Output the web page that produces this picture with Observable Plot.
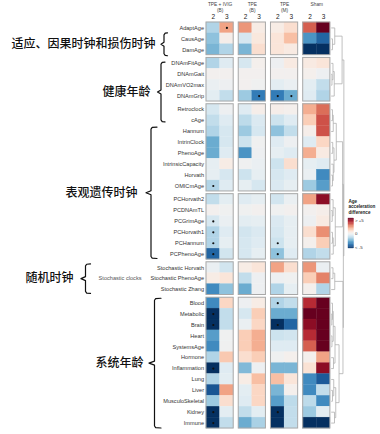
<!DOCTYPE html>
<html><head><meta charset="utf-8">
<script src="https://cdn.jsdelivr.net/npm/d3@7"></script>
<script src="https://cdn.jsdelivr.net/npm/@observablehq/plot@0.6"></script>
<style>body{margin:0;background:#fff}svg{display:block}</style>
</head><body><div id="chart"></div>
<script>
// ---------- data ----------
const blocks = [
  ["AdaptAge","CausAge","DamAge"],
  ["DNAmFitAge","DNAmGait","DNAmVO2max","DNAmGrip"],
  ["Retroclock","cAge","Hannum","IntrinClock","PhenoAge","IntrinsicCapacity","Horvath","OMICmAge"],
  ["PCHorvath2","PCDNAmTL","PCGrimAge","PCHorvath1","PCHannum","PCPhenoAge"],
  ["Stochastic Horvath","Stochastic PhenoAge","Stochastic Zhang"],
  ["Blood","Metabolic","Brain","Heart","SystemsAge","Hormone","Inflammation","Lung","Liver","MusculoSkeletal","Kidney","Immune"]
];
const groupTitles = [["TPE + IVIG","(B)"],["TPE","(B)"],["TPE","(M)"],["Sham"]];
const timepoints = ["2","3"];

// age acceleration difference per column, rows in the order of `blocks`
const ivigB_2 = [-1.5,-2,-2.3, -1.5,0,-0.3,-0.5, -0.8,-1.2,-1.5,-2.5,-2.5,-0.4,-0.4,-1.5, -1.2,0,-0.8,-1.5,-1.5,-4, -0.3,0.3,-3.2, -3.2,-5,-5,-2.8,-3.2,-1.5,-5,-1.5,-4.3,-1.8,-5,-5];
const ivigB_3 = [2,0.2,-1.5, -0.6,0,-0.2,-1.2, -0.2,-0.6,-0.8,-0.8,-0.6,0.3,-0.8,-0.6, -0.5,-0.1,-0.3,-0.6,-0.4,-0.9, -0.9,0.6,-2, 1,-1.2,-1.2,-0.1,-0.1,1.3,-0.6,-0.5,2,0.8,-0.5,-1.2];
const tpeB_2  = [2.2,-0.8,-2.3, -0.8,0,0,-1.8, -0.6,-1.3,-1.8,-1,-3,-0.1,-1,-0.4, -0.6,-0.1,-0.5,-0.9,-0.8,-0.8, 0.3,-1.2,-2.5, -0.2,-0.8,-0.3,1.2,1.2,0.8,-2.2,0.3,-0.5,-0.6,-1.2,-2.5];
const tpeB_3  = [0.3,0.5,0.8, 0.1,0,-0.1,-3.5, 0.2,-0.7,-0.8,-0.1,-0.2,-0.3,-0.4,-0.8, -0.4,0,-0.4,-0.7,-0.6,-0.4, 0.6,-0.2,-0.2, 0.3,1.2,1,1.8,1.8,1.2,-0.2,1.5,1,1,-0.5,-1.6];
const tpeM_2  = [0.3,0.6,0.6, -0.2,0,-0.5,-3.5, 0.2,-1,-2,-0.6,-0.4,-1,-0.8,-0.7, -0.9,-0.1,-0.7,-0.8,-1,-2, 2,-0.2,-1.5, -1.5,-2.5,-5,-1,-0.6,-0.1,-2.3,1.5,-2.3,-2.8,-5,-5];
const tpeM_3  = [0.8,1.5,0.4, 0.4,0,-0.3,-2.5, 0.1,-0.6,-1.2,-0.2,-0.6,0.8,-0.6,-0.4, -0.3,0,-0.4,-0.4,-0.4,-0.6, 0.8,-0.1,-0.4, -1.2,-2.5,-4,-0.9,-0.6,0.1,-2.3,0.6,0.1,-1.3,-1.2,-1.2];
const sham_2  = [3,-3,-5, 0.4,0.1,-0.5,-0.6, 1.8,1.2,0.2,-0.6,1.8,-0.4,-0.3,-1.8, 2,0,-0.2,0.8,0.1,-1.5, 2.2,1.2,0.1, 3.8,5,4.5,3.8,3,0.1,0.7,-3.2,-3.2,-1.3,-1.8,-5];
const sham_3  = [5,-4,-5, 0.6,-0.2,-1.2,-1.5, 2.8,3.2,3.2,1,0.4,-0.6,-3.2,-2.8, 4.5,0.2,0.4,2.3,1.2,-1.2, -0.3,2.5,-1.5, 5,5,5,5,5,2,4.5,-4.2,-1.2,-3.2,-0.5,-5];

// significant cells (*) per column
const sigIvigB_2 = ["OMICmAge","PCGrimAge","PCHorvath1","PCHannum","PCPhenoAge","Metabolic","Brain","Inflammation","Kidney","Immune"];
const sigIvigB_3 = ["AdaptAge"];
const sigTpeB_2 = [];
const sigTpeB_3 = ["DNAmGrip"];
const sigTpeM_2 = ["DNAmGrip","PCHannum","PCPhenoAge","Blood","Brain","Kidney"];
const sigTpeM_3 = ["DNAmGrip"];
const sigSham_2 = [];
const sigSham_3 = [];

// row dendrograms: [left, right, height]; leaves = global row index
const treeB1 = [0,[1,2,0.1],0.28];
const treeB2 = [[3,[4,5,0.06],0.14],6,0.24];
const treeB3 = [[[7,8,0.1],9,0.16],[[10,11,0.12],[12,[13,14,0.1],0.16],0.22],0.4];
const treeB4 = [[15,[16,17,0.08],0.15],[[18,19,0.1],20,0.16],0.32];
const treeB5 = [[21,22,0.14],23,0.28];
const treeB6 = [[[[24,[25,26,0.05],0.1],[27,28,0.06],0.16],[29,30,0.18],0.3],[[31,[32,33,0.1],0.2],[34,35,0.26],0.36],0.62];
const treeTop = [[treeB1,treeB2,0.86],[[treeB3,treeB4,0.9],[treeB5,treeB6,0.93],0.96],1.0];

// brace annotations
const braces = [
  {label:"适应、因果时钟和损伤时钟", from:"CausAge", to:"DamAge"},
  {label:"健康年龄", from:"DNAmFitAge", to:"cAge"},
  {label:"表观遗传时钟", from:"Hannum", to:"PCPhenoAge"},
  {label:"随机时钟", from:"Stochastic Horvath", to:"Stochastic Zhang"},
  {label:"系统年龄", from:"Blood", to:"Immune"}
];

// ---------- layout (pixels) ----------
const X0 = 206, CW = 13.6, Y0 = 22, RH = 10.9, RGAP = 0.25, CGAP = 0.37;
const braceLayout = [
  {xv:163.5, xh:167, xn:160.5, tx:155, inset:-0.05},
  {xv:160.5, xh:164.5, xn:157, tx:150, inset:0.38},
  {xv:150.5, xh:156.5, xn:145.5, tx:137, inset:0.1},
  {xv:85, xh:90, xn:80.5, tx:73, inset:0.15},
  {xv:154, xh:160.5, xn:148.5, tx:143, inset:0.05}
];
const X = px => (px - X0) / CW;
const Y = px => (px - Y0) / RH;

// ---------- derived ----------
const columns = [ivigB_2, ivigB_3, tpeB_2, tpeB_3, tpeM_2, tpeM_3, sham_2, sham_3];
const sigCols = [sigIvigB_2, sigIvigB_3, sigTpeB_2, sigTpeB_3, sigTpeM_2, sigTpeM_3, sigSham_2, sigSham_3];
const colLeft = j => Math.floor(j/2)*(2+CGAP) + (j%2);
const rows = []; const rowPos = {};
let k = 0;
blocks.forEach((b, bi) => b.forEach(n => { rowPos[n] = k + bi*RGAP; rows.push({name:n, y:k + bi*RGAP, bi}); k++; }));

const cells = [];
rows.forEach((r, i) => columns.forEach((col, j) => cells.push({x1:colLeft(j), x2:colLeft(j)+1, y1:r.y, y2:r.y+1, v:col[i]})));
const sig = [];
sigCols.forEach((list, j) => list.forEach(n => sig.push({x:colLeft(j)+0.5, y:rowPos[n]+0.5})));
const frames = [];
blocks.forEach((b) => groupTitles.forEach((g, gi) => {
  const y1 = rowPos[b[0]], y2 = rowPos[b[b.length-1]] + 1;
  frames.push({x1:gi*(2+CGAP), x2:gi*(2+CGAP)+2, y1, y2});
}));
const xRight = colLeft(7) + 1;
const hx = h => xRight + 0.06 + h * 0.93;
const segs = [];
function walk(t) {
  if (typeof t === "number") return {y: rows[t].y + 0.5, h: 0};
  const a = walk(t[0]), b = walk(t[1]), h = t[2];
  segs.push({x1:hx(a.h), x2:hx(h), y1:a.y, y2:a.y});
  segs.push({x1:hx(b.h), x2:hx(h), y1:b.y, y2:b.y});
  segs.push({x1:hx(h), x2:hx(h), y1:a.y, y2:b.y});
  return {y:(a.y+b.y)/2, h};
}
walk(treeTop);

const braceLines = [], braceText = [];
braces.forEach((b, i) => {
  const L = braceLayout[i];
  const yt = rowPos[b.from] + L.inset, yb = rowPos[b.to] + 1 - L.inset, ym = (yt+yb)/2;
  const d = 2/RH;
  const pts = [[L.xh, yt],[L.xv+1.2, yt+0.03],[L.xv, yt+d],[L.xv, ym-d],[L.xn, ym],[L.xv, ym+d],[L.xv, yb-d],[L.xv+1.2, yb-0.03],[L.xh, yb]];
  pts.forEach(p => braceLines.push({x:X(p[0]), y:p[1], z:i}));
  braceText.push({x:X(L.tx), y:ym, text:b.label});
});

const headerNums = [];
for (let j = 0; j < 8; j++) headerNums.push({x:colLeft(j)+0.5, text:timepoints[j%2]});
const headerTitles = [];
groupTitles.forEach((g, gi) => g.forEach((t, li) => headerTitles.push({x:gi*(2+CGAP)+1, y:Y(g.length===1?4.2:3.8+li*5.8), text:t})));

const legendSteps = d3.range(-5, 5.001, 0.25);
const lgTop = 218, lgBot = 248, lgX1 = 348, lgX2 = 353.5;
const lgRects = legendSteps.slice(0,-1).map((v, i) => ({v: v+0.125,
  y1: Y(lgBot - (i)*(lgBot-lgTop)/(legendSteps.length-1)),
  y2: Y(lgBot - (i+1)*(lgBot-lgTop)/(legendSteps.length-1))}));
const lgLabels = [{t:"> +5", y:220.5},{t:"0", y:233.5},{t:"< -5", y:247}];
const lgTitle = [{t:"Age", y:201},{t:"acceleration", y:206.5},{t:"difference", y:212}];

const font = "Liberation Sans, Arial, Helvetica, sans-serif";
const chart = Plot.plot({
  width: 380, height: 434, margin: 0,
  x: {domain: [X(0), X(380)], range: [0, 380], axis: null},
  y: {domain: [Y(0), Y(434)], range: [0, 434], axis: null},
  color: {type: "linear", domain: [-5, 5], scheme: "rdbu", reverse: true, clamp: true},
  style: {fontFamily: font, background: "#fff"},
  marks: [
    Plot.rect(cells, {x1:"x1", x2:"x2", y1:"y1", y2:"y2", fill:"v", stroke:"v", strokeWidth:0.3}),
    Plot.rect(frames, {x1:"x1", x2:"x2", y1:"y1", y2:"y2", fill:"none", stroke:"#a8a8a8", strokeWidth:1}),
    Plot.dot(sig, {x:"x", y:"y", r:1.1, fill:"#111", stroke:"none"}),
    Plot.text(rows, {x: X(203.5), y: d => d.y + 0.5, text:"name", textAnchor:"end", fontSize:5.6, fill:"#333"}),
    Plot.text(headerNums, {x:"x", y: Y(16.8), text:"text", fontSize:6.5, fill:"#222"}),
    Plot.text(headerTitles, {x:"x", y:"y", text:"text", fontSize:4.8, fill:"#444"}),
    Plot.link(segs, {x1:"x1", x2:"x2", y1:"y1", y2:"y2", stroke:"#b0b0b0", strokeWidth:0.8}),
    Plot.line(braceLines, {x:"x", y:"y", z:"z", stroke:"#111", strokeWidth:1.2, strokeLinejoin:"round"}),
    Plot.text(braceText, {x:"x", y:"y", text:"text", textAnchor:"end", fontSize:12, fill:"#111", fontFamily:"Noto Sans CJK SC", fontWeight:500}),
    Plot.text([{t:"Stochastic clocks"}], {x: X(141), y: rowPos["Stochastic PhenoAge"]+0.5, text:"t", textAnchor:"end", fontSize:5.6, fill:"#555"}),
    Plot.rect(lgRects, {x1: X(lgX1), x2: X(lgX2), y1:"y1", y2:"y2", fill:"v", stroke:"v", strokeWidth:0.3}),
    Plot.text(lgTitle, {x: X(348), y: d => Y(d.y), text:"t", textAnchor:"start", fontSize:4.6, fontWeight:"bold", fill:"#222"}),
    Plot.text(lgLabels, {x: X(354.5), y: d => Y(d.y), text:"t", textAnchor:"start", fontSize:4.4, fill:"#333"})
  ]
});
document.getElementById("chart").appendChild(chart);
</script>
</body></html>
